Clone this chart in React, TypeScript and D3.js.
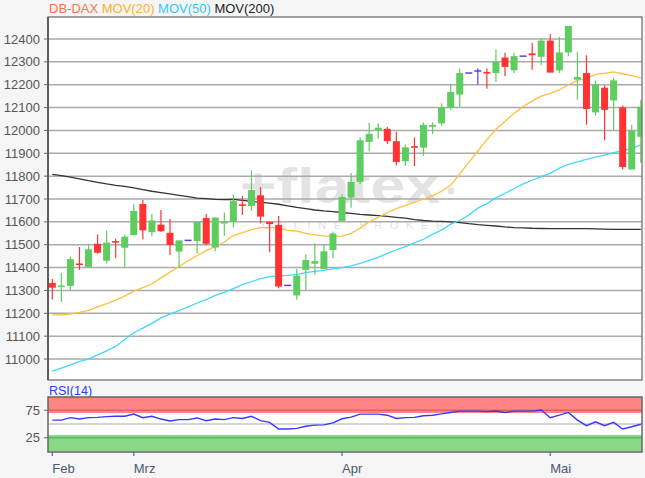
import React from 'react';
import * as d3 from 'd3';

const W = 645;
const H = 478;

const opens = [11333, 11312, 11320, 11418, 11403, 11504, 11430, 11516, 11487, 11542, 11678, 11555, 11588, 11552, 11470, 11519, 11516, 11617, 11488, 11590, 11601, 11677, 11670, 11716, 11600, 11587, 11322, 11278, 11390, 11417, 11394, 11477, 11604, 11706, 11775, 11950, 12001, 12007, 11953, 11865, 11931, 11925, 12016, 12031, 12099, 12157, 12251, 12260, 12256, 12251, 12319, 12263, 12325, 12337, 12322, 12393, 12263, 12341, 12222, 12251, 12079, 12187, 12131, 12101, 11829, 11972];
const highs = [11350, 11376, 11447, 11490, 11504, 11545, 11562, 11526, 11545, 11677, 11696, 11634, 11652, 11612, 11519, 11519, 11599, 11634, 11619, 11641, 11720, 11713, 11825, 11752, 11600, 11626, 11322, 11394, 11457, 11506, 11503, 11558, 11720, 11814, 11971, 12034, 12031, 12015, 11994, 11938, 11969, 12035, 12035, 12119, 12201, 12271, 12251, 12271, 12271, 12354, 12340, 12340, 12325, 12384, 12403, 12422, 12410, 12457, 12344, 12329, 12219, 12197, 12231, 12109, 12025, 12134];
const lows = [11260, 11250, 11303, 11390, 11398, 11461, 11418, 11441, 11400, 11542, 11523, 11537, 11556, 11455, 11400, 11519, 11461, 11498, 11471, 11539, 11575, 11630, 11648, 11593, 11467, 11310, 11322, 11259, 11303, 11370, 11394, 11441, 11604, 11662, 11765, 11909, 11965, 11941, 11847, 11846, 11844, 11888, 11984, 12021, 12090, 12101, 12251, 12201, 12182, 12212, 12237, 12251, 12325, 12266, 12285, 12253, 12251, 12325, 12134, 12025, 12065, 11957, 12001, 11829, 11829, 11859];
const closes = [11312, 11318, 11437, 11411, 11480, 11465, 11509, 11509, 11535, 11648, 11563, 11606, 11559, 11499, 11519, 11519, 11599, 11504, 11619, 11596, 11691, 11670, 11739, 11623, 11590, 11317, 11322, 11365, 11433, 11428, 11471, 11549, 11709, 11775, 11957, 11985, 12012, 11953, 11862, 11926, 11924, 12024, 12024, 12101, 12168, 12251, 12251, 12260, 12249, 12300, 12278, 12325, 12325, 12329, 12393, 12253, 12341, 12457, 12234, 12094, 12201, 12090, 12219, 11840, 11999, 12104];

const ma20 = [11193, 11193, 11197, 11204, 11213, 11228, 11242, 11258, 11275, 11297, 11312, 11328, 11355, 11380, 11405, 11430, 11452, 11474, 11493, 11512, 11540, 11553, 11566, 11575, 11576, 11572, 11563, 11560, 11550, 11543, 11539, 11535, 11538, 11550, 11573, 11600, 11620, 11640, 11658, 11672, 11685, 11700, 11715, 11734, 11760, 11810, 11860, 11910, 11960, 12005, 12040, 12075, 12104, 12128, 12150, 12162, 12177, 12200, 12219, 12228, 12245, 12250, 12256, 12248, 12240, 12230];
const ma50 = [10947, 10960, 10974, 10990, 11000, 11018, 11036, 11055, 11085, 11115, 11135, 11156, 11180, 11196, 11212, 11228, 11245, 11260, 11278, 11292, 11308, 11325, 11338, 11352, 11360, 11364, 11366, 11370, 11378, 11383, 11388, 11394, 11400, 11407, 11418, 11432, 11445, 11462, 11478, 11492, 11508, 11524, 11545, 11565, 11590, 11606, 11630, 11660, 11680, 11705, 11725, 11745, 11766, 11782, 11798, 11812, 11835, 11852, 11862, 11873, 11883, 11892, 11903, 11912, 11922, 11937];
const ma200 = [11808, 11802, 11796, 11788, 11780, 11773, 11766, 11760, 11755, 11749, 11741, 11734, 11728, 11722, 11716, 11710, 11704, 11702, 11698, 11697, 11698, 11694, 11690, 11685, 11682, 11677, 11670, 11663, 11658, 11652, 11648, 11645, 11641, 11637, 11633, 11630, 11627, 11624, 11620, 11616, 11610, 11606, 11603, 11602, 11600, 11597, 11592, 11588, 11585, 11582, 11578, 11575, 11574, 11572, 11571, 11570, 11570, 11570, 11570, 11570, 11569, 11568, 11567, 11567, 11567, 11567];
const rsi = [57, 57, 61.5, 59, 61.5, 62, 63.5, 64, 64, 68, 61.5, 64, 59, 55.5, 58, 58, 61, 56, 59, 58, 61.5, 60, 64, 56, 53, 41, 41, 42, 46, 48, 48.5, 52, 59.5, 62.5, 68, 68, 68, 66, 60, 61.5, 62, 65, 66, 68.5, 71, 73.5, 73.5, 73.5, 72.5, 73.5, 71, 73.5, 73.5, 73.5, 75.5, 61.5, 66, 71, 57, 47, 54, 47, 53, 41, 45, 49.5];

const monthLabels = ['Feb', 'Mrz', 'Apr', 'Mai'];
const monthIndex = [0, 9, 32, 55];
const priceTicks = [11000, 11100, 11200, 11300, 11400, 11500, 11600, 11700, 11800, 11900, 12000, 12100, 12200, 12300, 12400];
const rsiTicks = [75, 25];
const legendNames = ['DB-DAX', 'MOV(20)', 'MOV(50)', 'MOV(200)'];

const FONT = '"Liberation Sans", Arial, Helvetica, sans-serif';
const GREEN = '#5fcc5f';
const RED = '#ff3333';
const PURPLE = '#5a3de0';

const PL = 48;
const PR = 642;
const PT = 17;
const PB = 380;
const RT = 397;
const RB = 452;

export default function App() {
  const n = closes.length;
  const x = d3.scaleLinear().domain([0, n - 1]).range([52.3, 640.8]);
  const y = d3.scaleLinear().domain([11200, 12400]).range([313.3, 39]);
  const ry = d3.scaleLinear().domain([0, 100]).range([451.5, 396.5]);
  const bw = 7;

  const maLine = (arr: number[]) =>
    d3.line<number>().x((_, i) => x(i)).y((d) => y(d)).curve(d3.curveLinear)(arr) || '';
  const rsiPath = d3.line<number>().x((_, i) => x(i)).y((d) => ry(d))(rsi) || '';

  const legendColors = ['#ff7050', '#ffb030', '#30c8ff', '#222'];

  return (
    <svg width={W} height={H} style={{ position: 'absolute', left: 0, top: 0 }} fontFamily={FONT}>
      <defs>
        <clipPath id="mainClip">
          <rect x={PL} y={PT} width={PR - PL} height={PB - PT} />
        </clipPath>
        <clipPath id="rsiClip">
          <rect x={PL} y={RT} width={PR - PL} height={RB - RT} />
        </clipPath>
      </defs>
      <rect x={0} y={0} width={W} height={H} fill="#f5f5f5" />

      {/* legend */}
      <text x={49} y={13} fontSize={13}>
        {legendNames.map((s, i) => (
          <tspan key={s} fill={legendColors[i]}>{(i > 0 ? ' ' : '') + s}</tspan>
        ))}
      </text>

      {/* main panel */}
      <rect x={PL} y={PT} width={PR - PL} height={PB - PT} fill="#fff" />
      <g clipPath="url(#mainClip)">
        {/* watermark */}
        <g fill="#e3e3e3">
          <text x={240} y={203} fontSize={50} fontWeight="bold" textLength={200} lengthAdjust="spacingAndGlyphs">+flatex</text>
          <circle cx={451} cy={191} r={3.5} />
          <text x={262} y={229} fontSize={11} textLength={182} lengthAdjust="spacing">ONLINE BROKER</text>
        </g>
        {priceTicks.map((t) => (
          <line key={t} x1={PL} x2={PR} y1={y(t)} y2={y(t)} stroke="#aaaaaa" strokeWidth={1.5} />
        ))}
        <path d={maLine(ma200)} fill="none" stroke="#333" strokeWidth={1.3} />
        <path d={maLine(ma50)} fill="none" stroke="#40d8ff" strokeWidth={1.3} />
        <path d={maLine(ma20)} fill="none" stroke="#ffc040" strokeWidth={1.3} />
        {closes.map((c, i) => {
          const o = opens[i];
          const cx = x(i);
          const col = c > o ? GREEN : c < o ? RED : PURPLE;
          const top = y(Math.max(o, c));
          const bot = y(Math.min(o, c));
          const hgt = Math.max(bot - top, 1.5);
          return (
            <g key={i}>
              {highs[i] !== lows[i] && (
                <line x1={cx} x2={cx} y1={y(highs[i])} y2={y(lows[i])} stroke={col} strokeWidth={1.2} />
              )}
              {c === o ? (
                <line x1={cx - bw / 2} x2={cx + bw / 2} y1={top} y2={top} stroke={col} strokeWidth={1.5} />
              ) : (
                <rect x={cx - bw / 2} y={top - (hgt > bot - top ? 0.75 : 0)} width={bw} height={hgt} fill={col} />
              )}
            </g>
          );
        })}
      </g>
      <rect x={PL} y={PT} width={PR - PL} height={PB - PT} fill="none" stroke="#666" strokeWidth={1.2} />
      <line x1={PL} x2={PL} y1={PT} y2={PB} stroke="#555" strokeWidth={1.8} />
      {priceTicks.map((t) => (
        <g key={t}>
          <line x1={PL - 4} x2={PL} y1={y(t)} y2={y(t)} stroke="#666" strokeWidth={1} />
          <text x={40} y={y(t)} dy="0.35em" textAnchor="end" fontSize={13} fill="#555">{t}</text>
        </g>
      ))}

      {/* RSI panel */}
      <text x={49} y={395} fontSize={12.5} fill="#2a3cff">RSI(14)</text>
      <rect x={PL} y={RT} width={PR - PL} height={RB - RT} fill="#fff" />
      <g clipPath="url(#rsiClip)">
        <rect x={PL} y={ry(100)} width={PR - PL} height={ry(70) - ry(100)} fill="#ff8585" />
        <rect x={PL} y={ry(30)} width={PR - PL} height={ry(0) - ry(30)} fill="#88d888" />
        <line x1={PL} x2={PR} y1={ry(75)} y2={ry(75)} stroke="#dd6262" strokeWidth={1.5} />
        <line x1={PL} x2={PR} y1={ry(25)} y2={ry(25)} stroke="#62b862" strokeWidth={1.5} />
        <line x1={PL} x2={PR} y1={ry(50)} y2={ry(50)} stroke="#aaaaaa" strokeWidth={1.2} />
        <path d={rsiPath} fill="none" stroke="#3838ff" strokeWidth={1.4} />
      </g>
      <rect x={PL} y={RT} width={PR - PL} height={RB - RT} fill="none" stroke="#666" strokeWidth={1.5} />
      {rsiTicks.map((t) => (
        <g key={t}>
          <line x1={PL - 4} x2={PL} y1={ry(t)} y2={ry(t)} stroke="#666" strokeWidth={1} />
          <text x={40} y={ry(t)} dy="0.35em" textAnchor="end" fontSize={13} fill="#555">{t}</text>
        </g>
      ))}

      {/* x axis */}
      {monthIndex.map((mi, k) => (
        <g key={mi}>
          <line x1={x(mi)} x2={x(mi)} y1={RB} y2={RB + 4} stroke="#556677" strokeWidth={1.2} />
          <text x={x(mi)} y={473} fontSize={13} fill="#4a5a6e">{monthLabels[k]}</text>
        </g>
      ))}
    </svg>
  );
}
